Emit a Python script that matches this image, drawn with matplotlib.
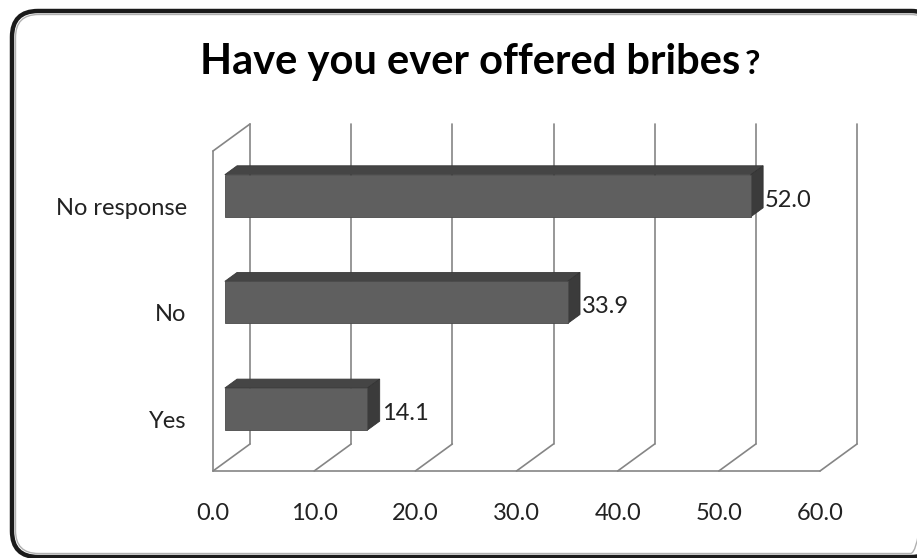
import matplotlib
matplotlib.use("Agg")
import matplotlib.pyplot as plt
from matplotlib.patches import Polygon, FancyBboxPatch

plt.rcParams['font.family'] = ['Lato', 'DejaVu Sans']

categories = ['Yes', 'No', 'No response']
values = [14.1, 33.9, 52.0]
ticks = [0, 10, 20, 30, 40, 50, 60]
title = 'Have you ever offered bribes'

W, H = 917, 558
fig = plt.figure(figsize=(W / 100, H / 100), dpi=100)

# background layer in pixel units for the rounded frame
bg = fig.add_axes([0, 0, 1, 1])
bg.set_xlim(0, W)
bg.set_ylim(H, 0)
bg.axis('off')
bg.add_patch(FancyBboxPatch((12, 11), 925, 546, boxstyle='round,pad=0,rounding_size=26',
                            fc='white', ec='#1a1a1a', lw=3.2))
bg.add_patch(FancyBboxPatch((15.5, 14.5), 918, 539, boxstyle='round,pad=0,rounding_size=23',
                            fc='none', ec='#b0b0b0', lw=1.0))

# oblique 3d layout: front floor edge and one category slot in pixels
ppu = 607 / 60.0
x0, y0, slot = 213, 471, 320 / 3.0
DX, DY = 37 / ppu, 27 / slot       # full depth offset in data units

ax = fig.add_axes([0, 0, 1, 1])
ax.set_xlim(-x0 / ppu, (W - x0) / ppu)
ax.set_ylim((y0 - H) / slot, y0 / slot)
ax.patch.set_alpha(0)
ax.axis('off')

n = len(categories)
vmax = ticks[-1]
grid = dict(color='#858585', lw=1.2, solid_capstyle='round', zorder=1)

# back wall gridlines and floor diagonals
for t in ticks:
    ax.plot([t + DX, t + DX], [DY, n + DY], **grid)
    ax.plot([t, t + DX], [0, DY], **grid)
# floor front edge and left wall
ax.plot([0, vmax], [0, 0], **grid)
ax.plot([0, 0], [0, n], **grid)
ax.plot([0, DX], [n, n + DY], **grid)

# bars
d0, d1 = 0.32, 0.65
hh = 0.197
for i, (cat, v) in enumerate(zip(categories, values)):
    c = i + 0.5
    front = [(DX * d0, c - hh + DY * d0), (v + DX * d0, c - hh + DY * d0),
             (v + DX * d0, c + hh + DY * d0), (DX * d0, c + hh + DY * d0)]
    top = [(DX * d0, c + hh + DY * d0), (v + DX * d0, c + hh + DY * d0),
           (v + DX * d1, c + hh + DY * d1), (DX * d1, c + hh + DY * d1)]
    side = [(v + DX * d0, c - hh + DY * d0), (v + DX * d0, c + hh + DY * d0),
            (v + DX * d1, c + hh + DY * d1), (v + DX * d1, c - hh + DY * d1)]
    ax.add_patch(Polygon(top, closed=True, fc='#454545', ec='#3a3a3a', lw=0.6, zorder=3))
    ax.add_patch(Polygon(side, closed=True, fc='#3b3b3b', ec='#333333', lw=0.6, zorder=3))
    ax.add_patch(Polygon(front, closed=True, fc='#5f5f5f', ec='#4a4a4a', lw=0.6, zorder=4))
    ax.text(v + DX * d1 + 0.2, c + DY * d0 * 0.5, f'{v:.1f}', ha='left', va='center',
            fontsize=17, color='#222222', zorder=5)
    ax.text(-2.6, c - 0.035, cat, ha='right', va='center', fontsize=17, color='#222222')

for t in ticks:
    ax.text(t, -0.403, f'{t:.1f}', ha='center', va='center', fontsize=17, color='#222222')

# title, with a smaller question mark
tt = fig.text(200 / W, 1 - 62 / H, title, ha='left', va='center', fontsize=30,
              fontweight='bold', color='black')
r = fig.canvas.get_renderer()
bb = tt.get_window_extent(renderer=r)
fig.text((bb.x1 + 5) / W, bb.y0 / H + 0.004, '?', ha='left', va='bottom', fontsize=24,
         fontweight='bold', color='black')

fig.savefig('out.png', dpi=100)
